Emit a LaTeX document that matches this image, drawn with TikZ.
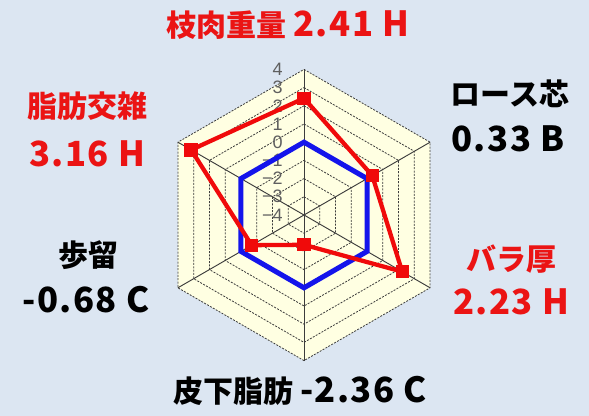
\documentclass[tikz,border=0pt]{standalone}
\usepackage{fontspec}
\setmainfont{Liberation Sans}
\newfontfamily\jpfont{Noto Sans CJK JP}
\newfontfamily\jpnum{Noto Sans CJK JP}[LetterSpace=4]
\newcommand{\numfont}{\jpnum\bfseries\fontsize{26}{28}\selectfont}
\usepackage{xcolor}
\usepackage{tikz}

\definecolor{bgblue}{RGB}{220,230,242}
\definecolor{chartbg}{RGB}{255,255,226}
\definecolor{gridgray}{RGB}{60,60,60}
\definecolor{scalegray}{RGB}{95,95,95}
\definecolor{datared}{RGB}{240,10,10}
\definecolor{zeroblue}{RGB}{20,20,235}
\definecolor{labelred}{RGB}{235,20,20}

\tikzset{
  ring/.style={gridgray, line width=0.6pt, dash pattern=on 1.5pt off 1pt},
  spoke/.style={gridgray, line width=0.7pt},
  scalenum/.style={anchor=east, inner sep=0pt, text=scalegray, font=\fontsize{13.5}{13.5}\selectfont},
  zeroline/.style={zeroblue, line width=3.8pt},
  redline/.style={datared, line width=3.2pt, line join=round},
  redsq/.style={fill=datared, minimum size=10pt, inner sep=0pt},
  jplabel/.style={inner sep=0pt, font=\jpfont\bfseries\fontsize{22.5}{24}\selectfont},
}

\begin{document}
\begin{tikzpicture}[x=0.75pt, y=0.75pt]
        %% Background
        \fill [bgblue] (0,0) rectangle (589,416);
        \useasboundingbox (0,0) rectangle (589,416);
        
        \begin{scope}[shift={(304,201)}]
        \coordinate (o) at (0,0); % centre of the chart
        
        %% Chart area and rings
        \fill [chartbg] (90:145.6) -- (30:145.6) -- (-30:145.6) -- (-90:145.6) -- (210:145.6) -- (150:145.6) -- cycle;
        \foreach \k in {1,...,8}
            \draw [ring] (90:{\k*18.2}) -- (30:{\k*18.2}) -- (-30:{\k*18.2}) -- (-90:{\k*18.2}) -- (210:{\k*18.2}) -- (150:{\k*18.2}) -- cycle;
        
        %% Spokes
        \foreach \a in {90,30,-30,-90,210,150}
            \draw [spoke] (o) -- (\a:145.6);
        
        %% Scale
        \foreach \v/\t in {-4/−4,-3/−3,-2/−2,-1/−1,0/0,1/1,2/2,3/3,4/4}
            \node [scalenum] at (-21,{(\v+4)*18.2}) {\t};
        
        %% Zero line
        \draw [zeroline] (90:72.8) -- (30:72.8) -- (-30:72.8) -- (-90:72.8) -- (210:72.8) -- (150:72.8) -- cycle;
        
        %% Data points
        \node [redsq] (edaniku) at (90:116.7) {};
        \node [redsq] (rosu) at (30:78.8) {};
        \node [redsq] (bara) at (-30:113.4) {};
        \node [redsq] (hika) at (-90:29.8) {};
        \node [redsq] (budome) at (210:60.4) {};
        \node [redsq] (shibou) at (150:130.3) {};
        \draw [redline] (edaniku.center) -- (rosu.center) -- (bara.center) -- (hika.center) -- (budome.center) -- (shibou.center) -- cycle;
        \end{scope}
        
        %% Item labels
        \node [jplabel, text=labelred] (l-edaniku) at (288,391) {枝肉重量 {\numfont 2.41 H}};
        \node [jplabel, text=black] (l-rosu) at (510,322) {ロース芯};
        \node [jplabel, text=black] (v-rosu) at (508,277) {\numfont 0.33 B};
        \node [jplabel, text=labelred] (l-bara) at (511,157) {バラ厚};
        \node [jplabel, text=labelred] (v-bara) at (511,114) {\numfont 2.23 H};
        \node [jplabel, text=black] (l-hika) at (300,25) {皮下脂肪 {\numfont -2.36 C}};
        \node [jplabel, text=black] (l-budome) at (88,161) {歩留};
        \node [jplabel, text=black] (v-budome) at (86,116) {\numfont -0.68 C};
        \node [jplabel, text=labelred] (l-shibou) at (87,310) {脂肪交雑};
        \node [jplabel, text=labelred] (v-shibou) at (87,262) {\numfont 3.16 H};
    \end{tikzpicture}
\end{document}
